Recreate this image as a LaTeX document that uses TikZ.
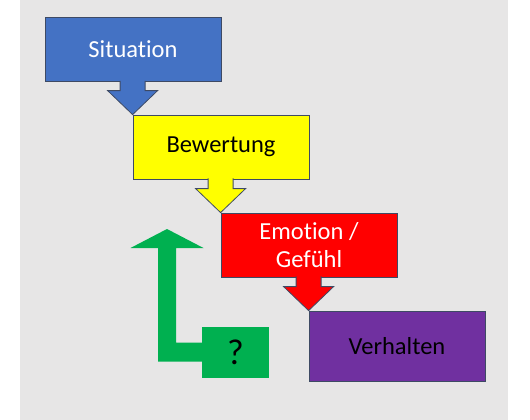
\documentclass[tikz,border=0pt]{standalone}
\usepackage{fontspec}
\setmainfont{Carlito}[Ligatures=NoCommon]
\usetikzlibrary{calc}
\definecolor{sitblue}{HTML}{4472C4}
\definecolor{bewyellow}{HTML}{FFFF00}
\definecolor{emored}{HTML}{FF0000}
\definecolor{verhviolet}{HTML}{7030A0}
\definecolor{qgreen}{HTML}{00B050}
\definecolor{edge}{HTML}{3E4A64}
\definecolor{bg}{HTML}{E7E6E6}
\newcommand{\blockarrow}[3]{%
  \filldraw[fill=#3,draw=edge,line width=0.8pt,line join=miter]
    ($(#2.north west |- #1.south)+(-12.5,-1)$) --
    ($(#2.north west)+(-12.5,-24)$) --
    ($(#2.north west)+(-25,-24)$) --
    (#2.north west) --
    ($(#2.north west)+(25,-24)$) --
    ($(#2.north west)+(12.5,-24)$) --
    ($(#2.north west |- #1.south)+(12.5,-1)$);}

\begin{document}
\begin{tikzpicture}[
    x=1pt,y=-1pt,
    box/.style={draw=edge,line width=0.8pt,rectangle,inner sep=0pt,
      minimum width=176pt,minimum height=64pt,
      font=\fontsize{24.5}{28}\selectfont},
    qbox/.style={fill=qgreen,rectangle,inner sep=0pt,
      minimum width=67.5pt,minimum height=51pt,
      font=\fontsize{36}{40}\selectfont}
  ]
  \useasboundingbox (0,0) rectangle (530,420);
  \fill[bg] (20,0) rectangle (508,420);

  \node[box,fill=sitblue,text=white] (sit) at (133,49.5) {Situation};
  \node[box,fill=bewyellow] (bew) at (221,147) {Bewertung};
  \node[box,fill=emored,text=white,align=center] (emo) at (309,245) {Emotion /\\Gefühl};
  \node[box,fill=verhviolet,minimum height=70pt] (verh) at (397,346) {Verhalten};

  \blockarrow{sit}{bew}{sitblue}
  \blockarrow{bew}{emo}{bewyellow}
  \blockarrow{emo}{verh}{emored}

  % back loop
  \node[qbox] (q) at (235.5,352) {?};
  \coordinate (back) at (167,229);
  \fill[qgreen] ($(q.west)+(1,-9.5)$) -- ($(back |- q.west)+(9,-9.5)$)
    -- ($(back)+(9,19)$) -- ($(back)+(36.5,19)$) -- (back)
    -- ($(back)+(-36.5,19)$) -- ($(back)+(-9,19)$)
    -- ($(back |- q.west)+(-9,9.5)$) -- ($(q.west)+(1,9.5)$) -- cycle;
\end{tikzpicture}
\end{document}
